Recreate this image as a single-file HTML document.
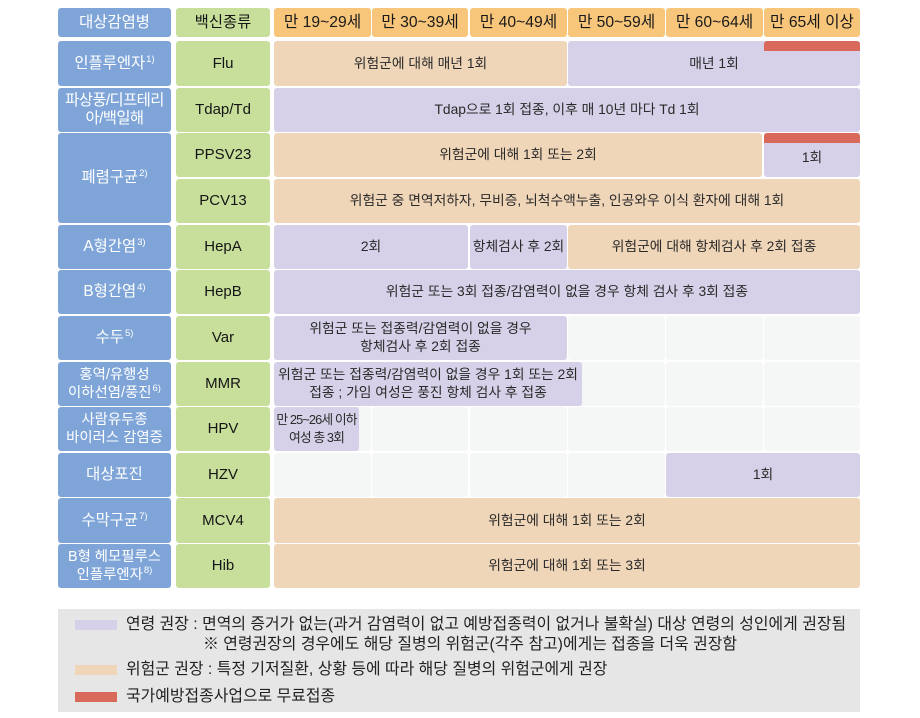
<!DOCTYPE html>
<html><head><meta charset="utf-8">
<style>
*{margin:0;padding:0;box-sizing:border-box}
html,body{width:920px;height:718px;background:#fff;overflow:hidden}
body{position:relative;font-family:"Liberation Sans","Noto Sans CJK KR",sans-serif;color:#222}
.c{position:absolute;display:flex;align-items:center;justify-content:center;text-align:center;border-radius:3px;font-size:13.8px;line-height:18px;color:#2a2a2a;white-space:nowrap}
.c>span{display:block}
.b{background:#7fa5d8;color:#fff;font-size:15.4px;left:58px;width:113px}
.b2{font-size:14.4px}
.g{background:#c8df9c;color:#151515;font-size:15px;left:176px;width:94px}
.h{background:#f8c67a;color:#1a1a1a;font-size:15.7px;top:8px;height:29px}
.p{background:#f0d6b9}
.l{background:#d6d1e8}
.e{background:#f5f7f6}
.r{background:#d9695b;position:absolute;border-radius:3px 3px 0 0}
sup{font-size:9.5px;line-height:0;position:relative;top:-6px;margin-left:1px;vertical-align:baseline}
.leg{position:absolute;left:58px;top:609px;width:802px;height:103px;background:#e6e6e6}
.sw{position:absolute;left:75px;width:42px;height:10px}
.lt{position:absolute;font-size:15.9px;line-height:20px;color:#222;white-space:nowrap}
</style></head><body>

<!-- header -->
<div class="c b" style="top:8px;height:29px"><span>대상감염병</span></div>
<div class="c g" style="top:8px;height:29px;font-size:15.4px"><span>백신종류</span></div>
<div class="c h" style="left:274px;width:97px"><span>만 19~29세</span></div>
<div class="c h" style="left:372px;width:96px"><span>만 30~39세</span></div>
<div class="c h" style="left:470px;width:97px"><span>만 40~49세</span></div>
<div class="c h" style="left:568px;width:97px"><span>만 50~59세</span></div>
<div class="c h" style="left:666px;width:97px"><span>만 60~64세</span></div>
<div class="c h" style="left:764px;width:96px"><span>만 65세 이상</span></div>

<!-- blue column -->
<div class="c b" style="top:41px;height:45px"><span>인플루엔자<sup>1)</sup></span></div>
<div class="c b" style="top:88px;height:44px;letter-spacing:-0.6px"><span>파상풍/디프테리<br>아/백일해</span></div>
<div class="c b" style="top:133px;height:90px"><span>폐렴구균<sup>2)</sup></span></div>
<div class="c b" style="top:225px;height:44px"><span>A형간염<sup>3)</sup></span></div>
<div class="c b" style="top:270px;height:44px"><span>B형간염<sup>4)</sup></span></div>
<div class="c b" style="top:316px;height:44px"><span>수두<sup>5)</sup></span></div>
<div class="c b b2" style="top:362px;height:44px"><span>홍역/유행성<br>이하선염/풍진<sup>6)</sup></span></div>
<div class="c b b2" style="top:407px;height:44px"><span>사람유두종<br>바이러스 감염증</span></div>
<div class="c b" style="top:453px;height:44px"><span>대상포진</span></div>
<div class="c b" style="top:498px;height:45px"><span>수막구균<sup>7)</sup></span></div>
<div class="c b b2" style="top:544px;height:44px"><span>B형 헤모필루스<br>인플루엔자<sup>8)</sup></span></div>

<!-- green column -->
<div class="c g" style="top:41px;height:45px"><span>Flu</span></div>
<div class="c g" style="top:88px;height:44px"><span>Tdap/Td</span></div>
<div class="c g" style="top:133px;height:44px"><span>PPSV23</span></div>
<div class="c g" style="top:179px;height:44px"><span>PCV13</span></div>
<div class="c g" style="top:225px;height:44px"><span>HepA</span></div>
<div class="c g" style="top:270px;height:44px"><span>HepB</span></div>
<div class="c g" style="top:316px;height:44px"><span>Var</span></div>
<div class="c g" style="top:362px;height:44px"><span>MMR</span></div>
<div class="c g" style="top:407px;height:44px"><span>HPV</span></div>
<div class="c g" style="top:453px;height:44px"><span>HZV</span></div>
<div class="c g" style="top:498px;height:45px"><span>MCV4</span></div>
<div class="c g" style="top:544px;height:44px"><span>Hib</span></div>

<!-- Flu -->
<div class="c p" style="left:274px;width:293px;top:41px;height:45px"><span>위험군에 대해 매년 1회</span></div>
<div class="c l" style="left:568px;width:292px;top:41px;height:45px"><span>매년 1회</span></div>
<div class="r" style="left:764px;width:96px;top:41px;height:10px"></div>

<!-- Tdap -->
<div class="c l" style="left:274px;width:586px;top:88px;height:44px"><span>Tdap으로 1회 접종, 이후 매 10년 마다 Td 1회</span></div>

<!-- PPSV23 -->
<div class="c p" style="left:274px;width:488px;top:133px;height:44px"><span>위험군에 대해 1회 또는 2회</span></div>
<div class="c l" style="left:764px;width:96px;top:133px;height:44px;padding-top:5px"><span>1회</span></div>
<div class="r" style="left:764px;width:96px;top:133px;height:10px"></div>

<!-- PCV13 -->
<div class="c p" style="left:274px;width:586px;top:179px;height:44px"><span>위험군 중 면역저하자, 무비증, 뇌척수액누출, 인공와우 이식 환자에 대해 1회</span></div>

<!-- HepA -->
<div class="c l" style="left:274px;width:194px;top:225px;height:44px"><span>2회</span></div>
<div class="c l" style="left:470px;width:97px;top:225px;height:44px"><span>항체검사 후 2회</span></div>
<div class="c p" style="left:568px;width:292px;top:225px;height:44px"><span>위험군에 대해 항체검사 후 2회 접종</span></div>

<!-- HepB -->
<div class="c l" style="left:274px;width:586px;top:270px;height:44px"><span>위험군 또는 3회 접종/감염력이 없을 경우 항체 검사 후 3회 접종</span></div>

<!-- Var -->
<div class="c l" style="left:274px;width:293px;top:316px;height:44px"><span>위험군 또는 접종력/감염력이 없을 경우<br>항체검사 후 2회 접종</span></div>
<div class="c e" style="left:568px;width:97px;top:316px;height:44px"></div>
<div class="c e" style="left:666px;width:97px;top:316px;height:44px"></div>
<div class="c e" style="left:764px;width:96px;top:316px;height:44px"></div>

<!-- MMR -->
<div class="c e" style="left:568px;width:97px;top:362px;height:44px"></div>
<div class="c e" style="left:666px;width:97px;top:362px;height:44px"></div>
<div class="c e" style="left:764px;width:96px;top:362px;height:44px"></div>
<div class="c l" style="left:274px;width:308px;top:362px;height:44px"><span>위험군 또는 접종력/감염력이 없을 경우 1회 또는 2회<br>접종 ; 가임 여성은 풍진 항체 검사 후 접종</span></div>

<!-- HPV -->
<div class="c e" style="left:274px;width:97px;top:407px;height:44px"></div>
<div class="c e" style="left:372px;width:96px;top:407px;height:44px"></div>
<div class="c e" style="left:470px;width:97px;top:407px;height:44px"></div>
<div class="c e" style="left:568px;width:97px;top:407px;height:44px"></div>
<div class="c e" style="left:666px;width:97px;top:407px;height:44px"></div>
<div class="c e" style="left:764px;width:96px;top:407px;height:44px"></div>
<div class="c l" style="left:274px;width:85px;top:407px;height:44px;font-size:12.8px;letter-spacing:-0.9px;line-height:18px"><span>만 25~26세 이하<br>여성 총 3회</span></div>

<!-- HZV -->
<div class="c e" style="left:274px;width:97px;top:453px;height:44px"></div>
<div class="c e" style="left:372px;width:96px;top:453px;height:44px"></div>
<div class="c e" style="left:470px;width:97px;top:453px;height:44px"></div>
<div class="c e" style="left:568px;width:97px;top:453px;height:44px"></div>
<div class="c l" style="left:666px;width:194px;top:453px;height:44px"><span>1회</span></div>

<!-- MCV4 / Hib -->
<div class="c p" style="left:274px;width:586px;top:498px;height:45px"><span>위험군에 대해 1회 또는 2회</span></div>
<div class="c p" style="left:274px;width:586px;top:544px;height:44px"><span>위험군에 대해 1회 또는 3회</span></div>

<!-- legend -->
<div class="leg"></div>
<div class="sw" style="top:620px;background:#d6d1e8"></div>
<div class="sw" style="top:665px;background:#f0d6b9"></div>
<div class="sw" style="top:692px;background:#d9695b"></div>
<div class="lt" style="left:126px;top:615px">연령 권장 : 면역의 증거가 없는(과거 감염력이 없고 예방접종력이 없거나 불확실) 대상 연령의 성인에게 권장됨</div>
<div class="lt" style="left:203px;top:635px">※ 연령권장의 경우에도 해당 질병의 위험군(각주 참고)에게는 접종을 더욱 권장함</div>
<div class="lt" style="left:126px;top:660px">위험군 권장 : 특정 기저질환, 상황 등에 따라 해당 질병의 위험군에게 권장</div>
<div class="lt" style="left:126px;top:687px">국가예방접종사업으로 무료접종</div>

</body></html>
